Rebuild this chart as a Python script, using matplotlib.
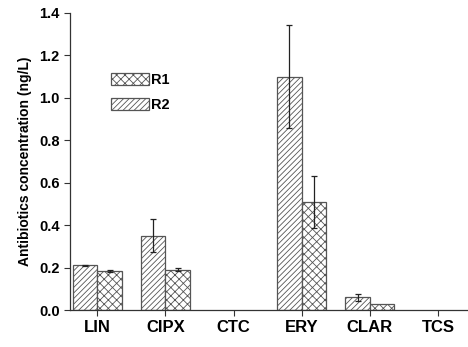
import numpy as np
import matplotlib
matplotlib.use("Agg")
import matplotlib.pyplot as plt
import matplotlib.patches as mpatches

plt.rcParams['font.family'] = ['Liberation Sans', 'DejaVu Sans']
plt.rcParams['font.weight'] = 'bold'
plt.rcParams['hatch.color'] = '#8a8a8a'
plt.rcParams['hatch.linewidth'] = 0.6

categories = ['LIN', 'CIPX', 'CTC', 'ERY', 'CLAR', 'TCS']
first_vals = [0.21, 0.35, 0.0, 1.10, 0.06, 0.0]
first_err = [0.004, 0.078, 0.0, 0.243, 0.016, 0.0]
second_vals = [0.184, 0.189, 0.0, 0.51, 0.027, 0.0]
second_err = [0.004, 0.007, 0.0, 0.122, 0.0, 0.0]
legend_labels = ['R1', 'R2']

fig = plt.figure(figsize=(4.68, 3.47), dpi=100)
ax = fig.add_axes([0.1496, 0.1066, 0.8504, 0.856])

x = np.arange(len(categories))
w = 0.36
edge = '#555555'
err_kw = {'ecolor': '#222222', 'elinewidth': 0.9, 'capsize': 2.5, 'capthick': 0.9}

# drop empty bars (zero concentration) so nothing is drawn for them
m1 = np.array(first_vals) > 0
m2 = np.array(second_vals) > 0
ax.bar(x[m1] - w / 2, np.array(first_vals)[m1], w, yerr=np.array(first_err)[m1],
       facecolor='white', edgecolor=edge, hatch='//////', linewidth=0.9, error_kw=err_kw)
e2 = np.array(second_err)[m2]
ax.bar(x[m2] + w / 2, np.array(second_vals)[m2], w,
       yerr=np.where(e2 > 0, e2, np.nan),
       facecolor='white', edgecolor=edge, hatch='xxxx', linewidth=0.9, error_kw=err_kw)

ax.set_xlim(-0.4, len(categories) - 1 + 0.44)
ax.set_ylim(0, 1.4)
ax.set_yticks(np.arange(0, 1.41, 0.2))
ax.set_yticklabels([f'{v:.1f}' for v in np.arange(0, 1.41, 0.2)], fontsize=10.5)
ax.set_xticks(x)
ax.set_xticklabels(categories, fontsize=12)
ax.tick_params(axis='both', direction='out', length=4, width=0.8, colors='#333333',
               labelcolor='black')
ax.set_ylabel('Antibiotics concentration (ng/L)', fontsize=10, fontweight='bold', labelpad=5)

for s in ['top', 'right']:
    ax.spines[s].set_visible(False)
for s in ['left', 'bottom']:
    ax.spines[s].set_color('#333333')
    ax.spines[s].set_linewidth(0.9)

h1 = mpatches.Patch(facecolor='white', edgecolor=edge, hatch='xxxx', linewidth=0.9, label=legend_labels[0])
h2 = mpatches.Patch(facecolor='white', edgecolor=edge, hatch='//////', linewidth=0.9, label=legend_labels[1])
ax.legend(handles=[h1, h2], loc='upper left', bbox_to_anchor=(0.07, 0.842), frameon=False,
          fontsize=10.5, handlelength=2.6, handleheight=0.85, labelspacing=0.75, handletextpad=0.15)

fig.savefig('out.png', dpi=100)
